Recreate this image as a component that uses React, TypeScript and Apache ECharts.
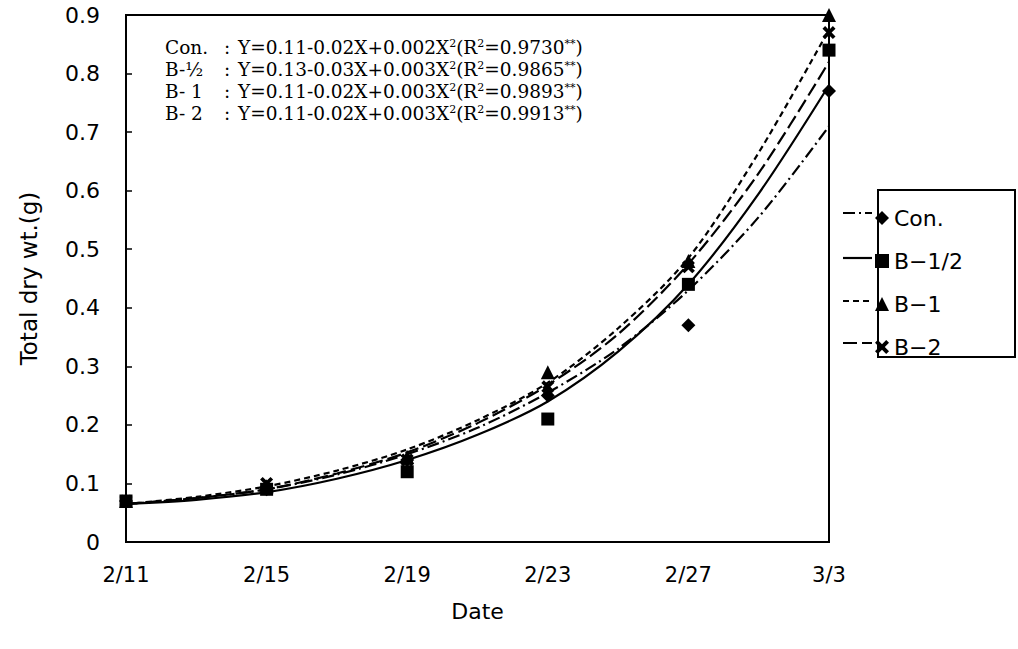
import React, { useEffect, useRef } from "react";
import * as echarts from "echarts";

// ---- data ----
const dateLabels = ["2/11", "2/15", "2/19", "2/23", "2/27", "3/3"];
const sampleDays = [0, 4, 8, 12, 16, 20];
const seriesNames = ["Con.", "B−1/2", "B−1", "B−2"];

// observed values
const obsCon = [0.07, 0.09, 0.14, 0.25, 0.37, 0.77];
const obsBHalf = [0.07, 0.09, 0.12, 0.21, 0.44, 0.84];
const obsB1 = [0.07, 0.095, 0.145, 0.29, 0.48, 0.9];
const obsB2 = [0.07, 0.1, 0.14, 0.265, 0.47, 0.87];

// fitted curves (every 2 days)
const fitDays = [0, 2, 4, 6, 8, 10, 12, 14, 16, 18, 20];
const fitCon = [0.065, 0.075, 0.09, 0.115, 0.15, 0.195, 0.255, 0.33, 0.43, 0.555, 0.71];
const fitBHalf = [0.065, 0.072, 0.085, 0.108, 0.14, 0.183, 0.24, 0.325, 0.44, 0.595, 0.78];
const fitB1 = [0.065, 0.077, 0.095, 0.122, 0.158, 0.208, 0.272, 0.365, 0.485, 0.665, 0.875];
const fitB2 = [0.065, 0.075, 0.09, 0.117, 0.153, 0.203, 0.268, 0.355, 0.475, 0.63, 0.82];

const yTicks = [0, 0.1, 0.2, 0.3, 0.4, 0.5, 0.6, 0.7, 0.8, 0.9];

const eqLabels = ["Con.", "B-½", "B- 1", "B- 2"];
const eqTexts = [
  "Y=0.11-0.02X+0.002X{s|2}(R{s|2}=0.9730{s|**})",
  "Y=0.13-0.03X+0.003X{s|2}(R{s|2}=0.9865{s|**})",
  "Y=0.11-0.02X+0.003X{s|2}(R{s|2}=0.9893{s|**})",
  "Y=0.11-0.02X+0.003X{s|2}(R{s|2}=0.9913{s|**})",
];

const SANS = "DejaVu Sans";
const SERIF = "DejaVu Serif";
const XPATH = "path://M0,2L2,0L5,3L8,0L10,2L7,5L10,8L8,10L5,7L2,10L0,8L3,5Z";

const symbols = ["diamond", "rect", "triangle", XPATH];
const symbolSizes = [14, 13, 14, 13];
const dashes: (number[] | "solid")[] = [[12, 4, 2, 4], "solid", [6, 4], [14, 5]];

const pair = (xs: number[], ys: number[]) => xs.map((x, i) => [x, ys[i]]);

export default function App() {
  const ref = useRef<HTMLDivElement>(null);
  useEffect(() => {
    if (!ref.current) return;
    const chart = echarts.init(ref.current, undefined, { renderer: "svg" });
    const obs = [obsCon, obsBHalf, obsB1, obsB2];
    const fits = [fitCon, fitBHalf, fitB1, fitB2];

    const scatterSeries = seriesNames.map((name, i) => ({
      name,
      type: "scatter",
      data: pair(sampleDays, obs[i]),
      symbol: symbols[i],
      symbolSize: symbolSizes[i],
      itemStyle: { color: "#000", opacity: 1 },
      z: 5,
    }));
    const lineSeries = seriesNames.map((name, i) => ({
      name,
      type: "line",
      data: pair(fitDays, fits[i]),
      smooth: 0.3,
      showSymbol: false,
      symbol: "none",
      lineStyle: { color: "#000", width: 2.2, type: dashes[i] },
      itemStyle: { color: "#000" },
      z: 3,
    }));

    const legendY = [213, 258, 301, 343];
    const graphics: any[] = [
      {
        type: "rect",
        shape: { x: 878, y: 190, width: 137, height: 167 },
        style: { fill: "none", stroke: "#000", lineWidth: 2 },
      },
    ];
    legendY.forEach((y, i) => {
      graphics.push({
        type: "line",
        shape: { x1: 843, y1: y, x2: 872, y2: y },
        style: {
          stroke: "#000",
          lineWidth: 2.2,
          lineDash: dashes[i] === "solid" ? null : dashes[i],
        },
      });
    });
    const eqY = [47, 69, 91, 113];
    const eqFont = 18.5;
    eqY.forEach((y, i) => {
      graphics.push({
        type: "text",
        x: 165,
        y,
        style: {
          text: eqLabels[i],
          fontFamily: SERIF,
          fontSize: eqFont,
          fill: "#000",
          verticalAlign: "middle",
        },
      });
      graphics.push({
        type: "text",
        x: 224,
        y,
        style: {
          text: ":",
          fontFamily: SERIF,
          fontSize: eqFont,
          fill: "#000",
          verticalAlign: "middle",
        },
      });
      graphics.push({
        type: "text",
        x: 238,
        y,
        style: {
          text: eqTexts[i],
          fontFamily: SERIF,
          fontSize: eqFont,
          fill: "#000",
          verticalAlign: "middle",
          rich: {
            s: {
              fontFamily: SERIF,
              fontSize: 11,
              verticalAlign: "top",
              fill: "#000",
            },
          },
        },
      });
    });

    chart.setOption({
      animation: false,
      backgroundColor: "#fff",
      grid: {
        left: 126,
        top: 15,
        width: 703,
        height: 527,
        show: true,
        borderColor: "#000",
        borderWidth: 2,
        backgroundColor: "transparent",
      },
      xAxis: {
        type: "value",
        min: 0,
        max: 20,
        interval: 4,
        axisLine: { lineStyle: { color: "#000", width: 2 } },
        axisTick: { show: false },
        splitLine: { show: false },
        axisLabel: {
          formatter: (v: number) => {
            const idx = sampleDays.indexOf(v);
            return idx >= 0 ? dateLabels[idx] : "";
          },
          fontFamily: SANS,
          fontSize: 21,
          color: "#000",
          margin: 22,
        },
        name: "Date",
        nameLocation: "middle",
        nameGap: 58,
        nameTextStyle: { fontFamily: SANS, fontSize: 22, color: "#000" },
      },
      yAxis: {
        type: "value",
        min: 0,
        max: 0.9,
        interval: 0.1,
        axisLine: { lineStyle: { color: "#000", width: 2 } },
        axisTick: { show: true, inside: true, length: 6, lineStyle: { color: "#000", width: 1.5 } },
        splitLine: { show: false },
        axisLabel: {
          formatter: (v: number) => {
            const t = yTicks.find((k) => Math.abs(k - v) < 1e-6);
            if (t === undefined) return "";
            return t === 0 ? "0" : t.toFixed(1);
          },
          fontFamily: SANS,
          fontSize: 22,
          color: "#000",
          margin: 26,
        },
        name: "Total dry wt.(g)",
        nameLocation: "middle",
        nameGap: 86,
        nameRotate: 90,
        nameTextStyle: { fontFamily: SANS, fontSize: 23, color: "#000" },
      },
      legend: {
        data: seriesNames,
        orient: "vertical",
        left: 870,
        top: 202,
        itemWidth: 14,
        itemHeight: 14,
        itemGap: 21,
        textStyle: { fontFamily: SANS, fontSize: 22, lineHeight: 22, color: "#000" },
        inactiveColor: "#000",
        selectedMode: false,
      },
      graphic: graphics,
      series: [...scatterSeries, ...lineSeries],
    });
    return () => chart.dispose();
  }, []);
  return (
    <div
      ref={ref}
      style={{ position: "absolute", left: 0, top: 0, width: 1018, height: 649 }}
    />
  );
}
